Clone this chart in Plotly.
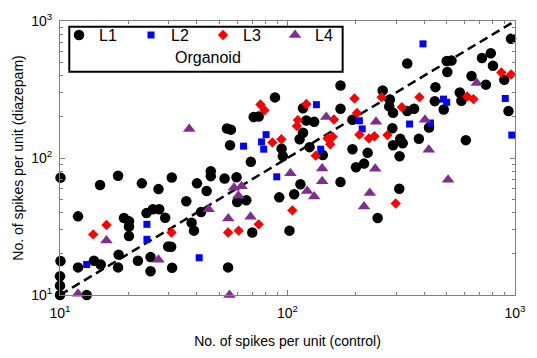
import plotly.graph_objects as go

# ---- data ----
L1_x = [961, 783, 716, 800, 501, 526, 504, 336, 644, 745, 897, 171, 447, 262, 572, 581, 444, 486, 282, 280,
        291, 336, 360, 936, 171, 193, 289, 419, 117, 121, 131, 117, 113, 313, 321, 291, 378, 608, 125, 143,
        193, 225, 311, 200, 217, 171, 114, 107, 92.0, 102, 249, 310, 88.1, 71.0, 74.7, 54.2, 56.4, 55.9, 94.2, 95.4,
        69.0, 10.05, 15.0, 18.0, 22.9, 27.1, 31.0, 40.0, 44.1, 46.0, 46.0, 52.9, 59.7, 35.9, 60.1, 65.9, 41.7, 37.9, 38.8, 70.0,
        30.8, 31.1, 54.8, 12.0, 19.1, 20.1, 20.1, 20.1, 24.0, 25.6, 27.3, 29.0, 29.9, 18.1, 25.0, 22.0, 25.0, 14.1, 15.1, 12.0,
        10.05, 10.0, 10.0, 10.0, 13.1, 18.0]
L1_y = [741, 581, 537, 472, 510, 514, 424, 490, 397, 343, 372, 338, 329, 311, 301, 262, 260, 226, 267, 238,
        214, 220, 229, 220, 229, 190, 165, 167, 231, 188, 184, 153, 137, 138, 128, 124, 138, 135, 120, 105,
        116, 109, 103, 85.5, 91.0, 66.7, 64.3, 54.4, 51.6, 29.5, 36.5, 59.7, 277, 199, 201, 164, 161, 124, 117, 103,
        93.7, 71.9, 63.5, 74.1, 65.3, 59.3, 72.1, 65.3, 57.4, 80.1, 73.7, 70.9, 72.3, 48.4, 47.8, 49.2, 40.3, 33.7, 29.5, 28.6,
        22.5, 15.8, 15.9, 37.5, 36.5, 34.6, 31.6, 26.9, 39.6, 42.2, 42.2, 36.6, 22.6, 19.7, 18.9, 17.8, 14.9, 17.8, 16.7, 15.9,
        17.7, 13.7, 11.7, 10.0, 10.0, 15.9]

L2_x = [394, 134, 207, 213, 344, 425, 485, 501, 906, 968, 140, 89.7, 64.1, 80.5, 76.9, 78.6, 24.1, 24.1, 13.1, 40.9]
L2_y = [681, 245, 187, 163, 177, 180, 269, 255, 272, 147, 116, 72.9, 122, 148, 131, 116, 32.8, 25.5, 16.7, 18.7]

L3_x = [871, 961, 616, 657, 380, 259, 197, 121, 202, 318, 160, 111, 110, 150, 158, 154, 207, 228, 241, 275,
        133, 105, 299, 76.0, 79.2, 85.8, 94.0, 14.0, 16.0, 30.9, 54.8, 61.0, 74.7]
L3_y = [421, 407, 281, 269, 278, 278, 272, 248, 213, 235, 191, 189, 171, 139, 143, 126, 148, 139, 144, 147,
        104, 41.5, 46.5, 246, 223, 130, 137, 27.7, 32.4, 28.6, 28.6, 29.5, 32.8]

L4_x = [679, 148, 245, 402, 418, 243, 142, 103, 142, 122, 131, 230, 217, 508, 37.0, 58.2, 62.8, 60.8, 45.0, 54.9,
        68.8, 16.0, 27.1, 12.0, 55.6]
L4_y = [352, 199, 184, 190, 115, 83.4, 83.9, 77.4, 67.6, 57.4, 52.4, 55.5, 44.3, 69.5, 163, 60.7, 62.3, 53.0, 42.2, 36.1,
        37.3, 25.0, 18.1, 10.2, 10.0]

unity = [10, 1000]
major_ticks = [10, 100, 1000]
major_labels = ["10<sup>1</sup>", "10<sup>2</sup>", "10<sup>3</sup>"]
minor_ticks = [20, 30, 40, 50, 60, 70, 80, 90, 200, 300, 400, 500, 600, 700, 800, 900]

series = [
    ("L1", L1_x, L1_y, "circle", 10.5, "#000000"),
    ("L2", L2_x, L2_y, "square", 7, "#0000FF"),
    ("L3", L3_x, L3_y, "diamond", 8, "#FF0000"),
    ("L4", L4_x, L4_y, "triangle-up", 11, "#7E2F8E"),
]

FONT = "Liberation Sans, Arial, sans-serif"
AX = "#808080"

fig = go.Figure()
fig.add_trace(go.Scatter(x=unity, y=unity, mode="lines", showlegend=False,
                         line=dict(color="black", width=2.5, dash="9px,5px"), hoverinfo="skip"))
for name, xs, ys, sym, sz, col in series:
    fig.add_trace(go.Scatter(x=xs, y=ys, mode="markers", name=name, cliponaxis=False,
                             marker=dict(symbol=sym, size=sz, color=col, line=dict(width=0))))

axis_common = dict(type="log", range=[1, 3], tickmode="array", tickvals=major_ticks, ticktext=major_labels,
                   ticks="inside", ticklen=5, tickcolor=AX, tickwidth=1, showline=True, linecolor=AX,
                   linewidth=1, mirror="ticks", showgrid=False, zeroline=False,
                   tickfont=dict(family=FONT, size=14, color="black"),
                   minor=dict(tickmode="array", tickvals=minor_ticks, ticks="inside", ticklen=3,
                              tickcolor=AX, showgrid=False))

fig.update_xaxes(**axis_common, ticklabelstandoff=5,
                 title=dict(text="No. of spikes per unit (control)", standoff=16,
                            font=dict(family=FONT, size=14, color="black")))
fig.update_yaxes(**axis_common, ticklabelstandoff=4,
                 title=dict(text="No. of spikes per unit (diazepam)", standoff=4,
                            font=dict(family=FONT, size=14, color="black")))

fig.add_shape(type="rect", xref="paper", yref="paper", x0=0.0204, x1=0.6212, y0=0.8151, y1=0.9789,
              line=dict(color="black", width=2), fillcolor="rgba(0,0,0,0)")
fig.add_annotation(text="Organoid", xref="paper", yref="paper", x=0.325, y=0.866,
                   xanchor="center", yanchor="middle", showarrow=False,
                   font=dict(family=FONT, size=16, color="black"))

fig.update_layout(
    width=537, height=358,
    margin=dict(l=60, r=11, t=14, b=60),
    plot_bgcolor="white", paper_bgcolor="white",
    font=dict(family=FONT, size=14, color="black"),
    legend=dict(orientation="h", x=0, y=1.0106, xanchor="left", yanchor="top", indentation=-1,
                bgcolor="rgba(0,0,0,0)", borderwidth=0, entrywidth=28, entrywidthmode="pixels",
                font=dict(family=FONT, size=16, color="black"), traceorder="normal"),
)

fig.write_html("out.html")
